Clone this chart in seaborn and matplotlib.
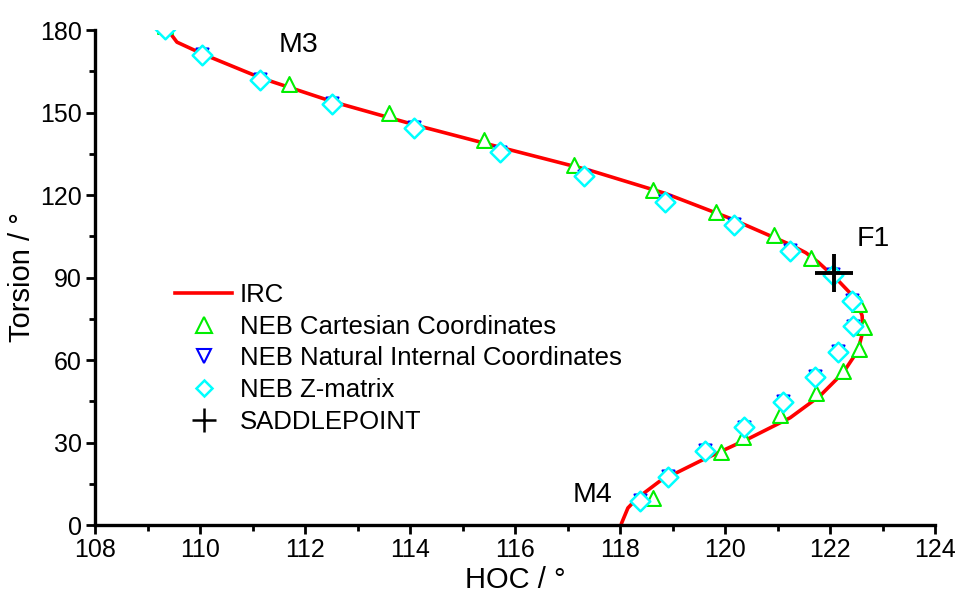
import matplotlib
matplotlib.use("Agg")
import matplotlib.pyplot as plt
import seaborn as sns
import pandas as pd
from matplotlib.ticker import MultipleLocator
from matplotlib.lines import Line2D

# IRC path
irc_hoc = [109.33, 109.43, 109.56, 110.06, 111.17, 112.55, 114.19, 115.71, 117.42, 118.86,
           120.10, 121.24, 121.54, 121.78, 122.15, 122.48, 122.61, 122.63, 122.53, 122.25,
           121.81, 121.24, 120.48, 119.53, 118.76, 118.33, 118.15, 118.03, 118.02]
irc_tor = [179.8, 178.9, 175.6, 171.2, 162.5, 153.8, 145.0, 137.4, 129.0, 120.6,
           111.5, 102.0, 99.0, 95.5, 89.0, 82.4, 76.2, 70.7, 63.4, 55.4,
           47.0, 39.0, 31.7, 23.3, 16.0, 9.8, 6.2, 0.7, 0.0]

# NEB Cartesian Coordinates
cart_hoc = [109.33, 111.69, 113.60, 115.41, 117.12, 118.63, 119.83, 120.94, 121.64, 122.55,
            122.65, 122.55, 122.25, 121.74, 121.04, 120.34, 119.93, 118.63]
cart_tor = [181.5, 160.5, 150.0, 140.0, 131.0, 122.0, 114.0, 105.5, 97.0, 80.5,
            72.0, 64.0, 56.0, 48.0, 40.0, 32.0, 26.5, 10.0]

# NEB Natural Internal Coordinates
nat_hoc = [109.33, 110.03, 111.14, 112.52, 114.08, 115.71, 117.32, 118.85, 120.18, 121.24,
           122.05, 122.42, 122.44, 122.15, 121.72, 121.10, 120.36, 119.62, 118.91, 118.38]
nat_tor = [180.6, 171.3, 162.3, 153.3, 144.8, 135.8, 127.1, 117.8, 109.3, 100.1,
           91.3, 81.8, 72.5, 63.3, 54.3, 45.1, 35.8, 27.1, 17.9, 9.1]

# NEB Z-matrix
zm_hoc = [109.33, 110.03, 111.14, 112.52, 114.08, 115.71, 117.32, 118.85, 120.18, 121.24,
          122.05, 122.42, 122.44, 122.15, 121.72, 121.10, 120.36, 119.62, 118.91, 118.38]
zm_tor = [180.3, 171.0, 162.0, 153.0, 144.5, 135.5, 126.8, 117.5, 109.0, 99.8,
          91.0, 81.5, 72.2, 63.0, 54.0, 44.8, 35.5, 26.8, 17.6, 8.8]

# Saddle point
sp_hoc = [122.07]
sp_tor = [91.5]

labels = ["M3", "F1", "M4"]
label_x = [111.49, 122.50, 117.09]
label_y = [174.5, 104.0, 11.0]

plt.rcParams['font.family'] = ['Liberation Sans', 'DejaVu Sans']
fig = plt.figure(figsize=(9.6, 5.96), dpi=100)
ax = fig.add_axes([0.099, 0.1191, 0.875, 0.8305])

irc = pd.DataFrame({"x": irc_hoc, "y": irc_tor})
sns.lineplot(data=irc, x="x", y="y", sort=False, estimator=None, color="#ff0000",
             linewidth=2.6, ax=ax, zorder=2)

sns.scatterplot(x=cart_hoc, y=cart_tor, marker="^", s=115, facecolors="white",
                edgecolor="#00ee00", linewidth=1.5, ax=ax, zorder=3)
sns.scatterplot(x=nat_hoc, y=nat_tor, marker="v", s=75, facecolors="white",
                edgecolor="#0000ff", linewidth=1.5, ax=ax, zorder=4)
sns.scatterplot(x=zm_hoc, y=zm_tor, marker="D", s=100, facecolors="white",
                edgecolor="#00ffff", linewidth=1.8, ax=ax, zorder=5)
sns.scatterplot(x=sp_hoc, y=sp_tor, marker="+", s=784, color="black",
                linewidth=2.8, ax=ax, zorder=6)

for t, x, y in zip(labels, label_x, label_y):
    ax.text(x, y, t, fontsize=20.5, ha="left", va="center")

ax.set_xlim(108, 124)
ax.set_ylim(0, 180)
ax.xaxis.set_major_locator(MultipleLocator(2))
ax.xaxis.set_minor_locator(MultipleLocator(1))
ax.yaxis.set_major_locator(MultipleLocator(30))
ax.yaxis.set_minor_locator(MultipleLocator(15))
ax.tick_params(which="major", direction="out", length=6.5, width=2.0, labelsize=18, pad=3)
ax.tick_params(which="minor", direction="out", length=4, width=2.0)
for s in ["top", "right"]:
    ax.spines[s].set_visible(False)
for s in ["left", "bottom"]:
    ax.spines[s].set_linewidth(2.4)
ax.set_xlabel("HOC / °", fontsize=21)
ax.set_ylabel("Torsion / °", fontsize=21)
ax.yaxis.set_label_coords(-0.0702, 0.5)
ax.xaxis.set_label_coords(0.5, -0.083)

handles = [
    Line2D([], [], color="#ff0000", lw=2.6),
    Line2D([], [], ls="none", marker="^", ms=11, mfc="none", mec="#00ee00", mew=1.5),
    Line2D([], [], ls="none", marker="v", ms=10, mfc="none", mec="#0000ff", mew=1.5),
    Line2D([], [], ls="none", marker="D", ms=8.5, mfc="none", mec="#00ffff", mew=1.8),
    Line2D([], [], ls="none", marker="+", ms=17, color="black", mew=1.8),
]
names = ["IRC", "NEB Cartesian Coordinates", "NEB Natural Internal Coordinates",
         "NEB Z-matrix", "SADDLEPOINT"]
ax.legend(handles, names, loc="upper left", bbox_to_anchor=(0.0833, 0.51), frameon=False,
          fontsize=18.5, handlelength=2.2, handletextpad=0.3, labelspacing=0.3,
          borderaxespad=0)

fig.savefig("out.png", dpi=100)
